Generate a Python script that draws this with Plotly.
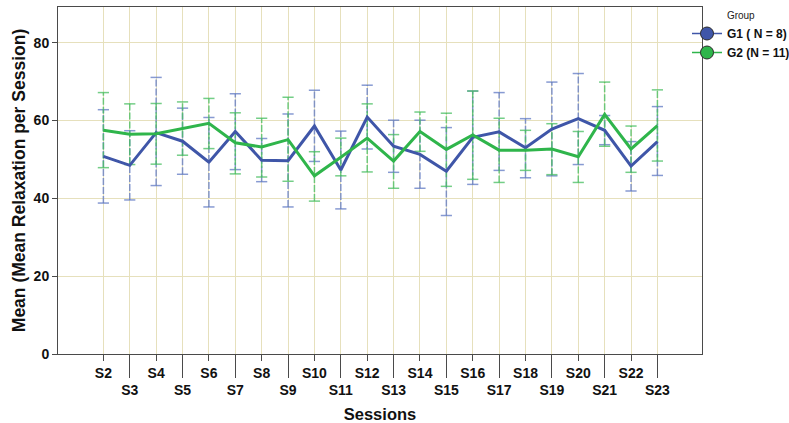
import plotly.graph_objects as go

# Sessions and per-group statistics (mean with lower/upper interval bounds)
sessions = [f"S{i}" for i in range(2, 24)]

g1_mean = [50.8, 48.5, 56.9, 54.7, 49.3, 57.2, 49.8, 49.7, 58.6, 47.3, 60.9,
           53.4, 51.3, 47.0, 55.7, 57.1, 53.0, 57.8, 60.5, 57.5, 48.3, 54.6]
g1_hi = [62.8, 57.4, 71.1, 63.2, 60.8, 66.9, 55.4, 61.7, 67.8, 57.3, 69.1,
         60.1, 60.1, 58.2, 67.6, 67.2, 60.5, 69.9, 72.1, 61.3, 54.6, 63.6]
g1_lo = [38.8, 39.6, 43.3, 46.2, 37.8, 47.4, 44.3, 37.8, 49.5, 37.3, 52.7,
         46.7, 42.6, 35.6, 43.6, 47.2, 45.3, 45.8, 48.7, 53.8, 41.9, 45.9]

g2_mean = [57.5, 56.5, 56.6, 58.0, 59.3, 54.3, 53.2, 55.1, 45.8, 50.6, 55.5,
           49.6, 57.2, 52.6, 56.3, 52.4, 52.4, 52.7, 50.7, 61.6, 52.7, 58.7]
g2_hi = [67.2, 64.3, 64.4, 64.8, 65.7, 62.0, 60.6, 66.0, 52.0, 55.5, 64.3,
         56.4, 62.2, 61.9, 67.6, 60.6, 57.5, 59.2, 57.2, 69.9, 58.6, 67.9]
g2_lo = [47.9, 48.7, 48.8, 51.1, 52.8, 46.3, 45.5, 44.4, 39.3, 45.8, 46.8,
         42.6, 52.1, 43.1, 44.9, 44.1, 47.2, 46.1, 44.1, 53.4, 46.7, 49.6]

group_names = ["G1 ( N = 8)", "G2 (N = 11)"]
line_colors = ["#3f56a8", "#2fb54b"]
bar_colors = ["rgba(95,120,195,0.75)", "rgba(70,190,95,0.75)"]

FONT = "Liberation Sans, Arial, sans-serif"
GRID = "#e6e0bc"
AXIS = "#4a4a4a"
TICKFONT = dict(size=14, weight="bold", color="#111")

idx = list(range(len(sessions)))
fig = go.Figure()

groups = [(g1_mean, g1_lo, g1_hi), (g2_mean, g2_lo, g2_hi)]

# Dashed interval bars with end caps
for (mean, lo, hi), bc in zip(groups, bar_colors):
    xs, ys = [], []
    for i, a, b in zip(idx, lo, hi):
        xs += [i, i, None]
        ys += [a, b, None]
    fig.add_trace(go.Scatter(x=xs, y=ys, mode="lines", showlegend=False,
                             hoverinfo="skip",
                             line=dict(color=bc, width=1.5, dash="7px,2px")))
    fig.add_trace(go.Scatter(x=idx + idx, y=lo + hi, mode="markers",
                             showlegend=False, hoverinfo="skip",
                             marker=dict(symbol="line-ew", size=8,
                                         line=dict(color=bc, width=1.5))))

# Mean lines
for (mean, lo, hi), lc, name in zip(groups, line_colors, group_names):
    fig.add_trace(go.Scatter(x=idx, y=mean, mode="lines", name=name,
                             showlegend=False,
                             line=dict(color=lc, width=3)))

# Legend entries
for lc, name in zip(line_colors, group_names):
    fig.add_trace(go.Scatter(x=[None], y=[None], mode="lines+markers",
                             name=name,
                             line=dict(color=lc, width=1.5),
                             marker=dict(symbol="circle", size=13, color=lc,
                                         line=dict(color="#2a2a2a", width=1))))

xrange = [-1.72, 21 + 1.69]
even = [i for i in idx if i % 2 == 0]
odd = [i for i in idx if i % 2 == 1]

fig.update_layout(
    width=789, height=423,
    margin=dict(l=58, r=87, t=7, b=69, autoexpand=False),
    plot_bgcolor="white", paper_bgcolor="white",
    font=dict(family=FONT, color="#111"),
    xaxis=dict(
        range=xrange, tickmode="array", tickvals=even,
        ticktext=[sessions[i] for i in even],
        ticks="outside", ticklen=6, tickwidth=1, tickcolor=AXIS,
        tickfont=TICKFONT, automargin=False,
        showgrid=True, gridcolor=GRID, gridwidth=1,
        showline=True, linecolor=AXIS, linewidth=1, mirror=True,
        zeroline=False,
        title=dict(text="Sessions", standoff=28,
                   font=dict(size=16.5, weight="bold", color="#111")),
    ),
    xaxis2=dict(
        overlaying="x", anchor="y", side="bottom",
        range=xrange, tickmode="array", tickvals=odd,
        ticktext=[sessions[i] for i in odd],
        ticks="outside", ticklen=23, tickwidth=1, tickcolor=AXIS,
        tickfont=TICKFONT, automargin=False,
        showgrid=True, gridcolor=GRID, gridwidth=1,
        showline=False, zeroline=False,
    ),
    yaxis=dict(
        range=[0, 89.2], tickmode="array", tickvals=[0, 20, 40, 60, 80],
        ticks="outside", ticklen=5, tickcolor=AXIS,
        tickfont=TICKFONT, automargin=False,
        showgrid=True, gridcolor=GRID, gridwidth=1,
        showline=True, linecolor=AXIS, linewidth=1, mirror=True,
        zeroline=False,
        title=dict(text="Mean (Mean Relaxation per Session)", standoff=3,
                   font=dict(size=17.5, weight="bold", color="#111")),
    ),
    legend=dict(
        xref="container", yref="container",
        x=687 / 789, y=1 - 6 / 423, xanchor="left", yanchor="top",
        title=dict(text="Group", side="top center",
                   font=dict(size=10, weight="normal", color="#222")),
        font=dict(size=12, weight="bold", color="#111"),
        bgcolor="rgba(0,0,0,0)", tracegroupgap=0, itemwidth=30,
    ),
)

# place a dummy trace on xaxis2 so the overlay axis renders
fig.add_trace(go.Scatter(x=[None], y=[None], xaxis="x2", showlegend=False,
                         hoverinfo="skip"))

fig.write_html("out.html")
